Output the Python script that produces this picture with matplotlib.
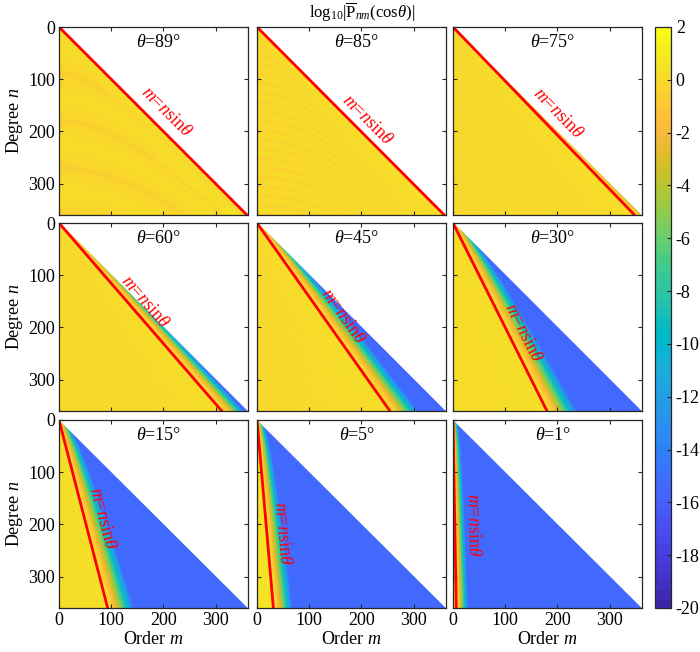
import numpy as np
import matplotlib
matplotlib.use("Agg")
import matplotlib.pyplot as plt
from matplotlib.colors import ListedColormap

# ---- data description ----
thetas = [89, 85, 75, 60, 45, 30, 15, 5, 1]      # colatitude of each panel, degrees
nmax = 360                                       # maximum degree / order
cmin, cmax = -20, 2                              # colour limits of log10|P|
noise_floor = -15.3                              # round-off floor seen in the blue region
cbar_ticks = list(range(-20, 3, 2))
axis_ticks = [0, 100, 200, 300]

# where the "m=nsin(theta)" label sits: degree n of its centre, and m offset from the line
label_n = [163, 178, 165, 151, 179, 209, 188, 216, 200]
label_dm = [43, 34, 42, 34, 37, 30, 35, 29, 34]

# MATLAB parula (64 entries)
parula_data = [
    [0.2422, 0.1504, 0.6603], [0.2504, 0.1650, 0.7076], [0.2578, 0.1818, 0.7511],
    [0.2647, 0.1978, 0.7952], [0.2706, 0.2147, 0.8364], [0.2751, 0.2342, 0.8710],
    [0.2783, 0.2559, 0.8991], [0.2803, 0.2782, 0.9221], [0.2813, 0.3006, 0.9414],
    [0.2810, 0.3228, 0.9579], [0.2795, 0.3447, 0.9717], [0.2760, 0.3667, 0.9829],
    [0.2699, 0.3892, 0.9906], [0.2602, 0.4123, 0.9952], [0.2440, 0.4358, 0.9988],
    [0.2206, 0.4603, 0.9973], [0.1963, 0.4847, 0.9892], [0.1834, 0.5074, 0.9798],
    [0.1786, 0.5289, 0.9682], [0.1764, 0.5499, 0.9520], [0.1687, 0.5703, 0.9359],
    [0.1540, 0.5902, 0.9218], [0.1460, 0.6091, 0.9079], [0.1380, 0.6276, 0.8973],
    [0.1248, 0.6459, 0.8883], [0.1113, 0.6635, 0.8763], [0.0952, 0.6798, 0.8598],
    [0.0689, 0.6948, 0.8394], [0.0297, 0.7082, 0.8163], [0.0036, 0.7203, 0.7917],
    [0.0067, 0.7312, 0.7660], [0.0433, 0.7411, 0.7394], [0.0964, 0.7500, 0.7120],
    [0.1408, 0.7584, 0.6842], [0.1717, 0.7670, 0.6554], [0.1938, 0.7758, 0.6251],
    [0.2161, 0.7843, 0.5923], [0.2470, 0.7918, 0.5567], [0.2906, 0.7973, 0.5188],
    [0.3406, 0.8008, 0.4789], [0.3909, 0.8029, 0.4354], [0.4456, 0.8024, 0.3909],
    [0.5044, 0.7993, 0.3480], [0.5616, 0.7942, 0.3045], [0.6174, 0.7876, 0.2612],
    [0.6720, 0.7793, 0.2227], [0.7242, 0.7698, 0.1910], [0.7738, 0.7598, 0.1646],
    [0.8203, 0.7498, 0.1535], [0.8634, 0.7406, 0.1596], [0.9035, 0.7330, 0.1774],
    [0.9393, 0.7288, 0.2100], [0.9728, 0.7298, 0.2394], [0.9956, 0.7434, 0.2371],
    [0.9970, 0.7659, 0.2199], [0.9952, 0.7893, 0.2028], [0.9892, 0.8136, 0.1885],
    [0.9786, 0.8386, 0.1766], [0.9676, 0.8639, 0.1643], [0.9610, 0.8890, 0.1537],
    [0.9597, 0.9135, 0.1423], [0.9628, 0.9373, 0.1265], [0.9691, 0.9606, 0.1064],
    [0.9769, 0.9839, 0.0805]]
parula = ListedColormap(parula_data, name="parula")
parula.set_bad((1, 1, 1, 0))


def log10_legendre(theta_deg, N):
    """log10 |fully normalised P_nm(cos theta)| for 0<=m<=n<=N, NaN above the diagonal."""
    th = np.radians(theta_deg)
    t, u = np.cos(th), np.sin(th)
    out = np.full((N + 1, N + 1), np.nan)
    # sectorials in log form
    logpmm = np.zeros(N + 1)
    if N >= 1:
        logpmm[1] = np.log10(np.sqrt(3.0) * u)
    for k in range(2, N + 1):
        logpmm[k] = logpmm[k - 1] + np.log10(u * np.sqrt((2 * k + 1) / (2.0 * k)))
    p1 = np.zeros(N + 1)
    p2 = np.zeros(N + 1)
    sc = np.zeros(N + 1)
    for n in range(N + 1):
        p = np.zeros(N + 1)
        if n >= 1:
            mm = np.arange(n).astype(float)
            a = np.sqrt((2 * n - 1) * (2 * n + 1) / ((n - mm) * (n + mm)))
            if n >= 2:
                b = np.sqrt(np.clip((2 * n + 1) * (n + mm - 1) * (n - mm - 1)
                                    / ((n - mm) * (n + mm) * (2 * n - 3)), 0, None))
            else:
                b = np.zeros(n)
            p[:n] = a * t * p1[:n] - b * p2[:n]
        p[n] = 1.0
        sc[n] = logpmm[n]
        with np.errstate(divide="ignore"):
            out[n, :n + 1] = np.log10(np.abs(p[:n + 1])) + sc[:n + 1]
        big = np.abs(p) > 1e100
        p[big] /= 1e100
        p1[big] /= 1e100
        sc[big] += 100
        p2 = p1.copy()
        p1 = p
    return out


plt.rcParams["font.family"] = ["Liberation Serif", "DejaVu Serif"]
plt.rcParams["mathtext.fontset"] = "custom"
plt.rcParams["mathtext.rm"] = "Liberation Serif"
plt.rcParams["mathtext.it"] = "Liberation Serif:italic"
plt.rcParams["axes.unicode_minus"] = False
plt.rcParams["font.size"] = 11

fig = plt.figure(figsize=(7.0, 6.52), dpi=100)

W, H = 700.0, 652.0
col_left = [59, 257, 453]
row_top = [27, 223, 420]
pw, ph = 189, 188
edge = "#262626"

im = None
for i, th in enumerate(thetas):
    r, c = divmod(i, 3)
    ax = fig.add_axes([col_left[c] / W, 1 - (row_top[r] + ph) / H, pw / W, ph / H])
    data = log10_legendre(th, nmax)
    data = np.maximum(data, noise_floor)
    im = ax.imshow(data, cmap=parula, vmin=cmin, vmax=cmax, origin="upper",
                   extent=[-0.5, nmax + 0.5, nmax + 0.5, -0.5], aspect="auto",
                   interpolation="antialiased", interpolation_stage="rgba")
    s = np.sin(np.radians(th))
    ax.plot([0, nmax * s], [0, nmax], color="red", lw=2.0)
    ax.set_xlim(0, nmax + 2)
    ax.set_ylim(nmax, 0)
    ax.set_xticks(axis_ticks)
    ax.set_yticks(axis_ticks)
    ax.tick_params(direction="in", top=True, right=True, length=3, width=0.8,
                   color=edge, labelsize=13, pad=3)
    for sp in ax.spines.values():
        sp.set_color(edge)
        sp.set_linewidth(0.9)
    if c != 0:
        ax.set_yticklabels([])
    else:
        ax.set_ylabel("Degree $n$", fontsize=13, labelpad=2)
    if r != 2:
        ax.set_xticklabels([])
    else:
        ax.set_xlabel("Order $m$", fontsize=13, labelpad=1)
    ax.text(0.53, 0.915, r"$\theta$=%d°" % th, transform=ax.transAxes,
            ha="center", va="center", fontsize=13)
    ang = -np.degrees(np.arctan2(1.0, s))
    ln = label_n[i]
    ax.text(ln * s + label_dm[i], ln, r"$m$=$n$sin$\theta$", color="red",
            rotation=ang, rotation_mode="anchor", ha="center", va="center",
            fontsize=13)

cax = fig.add_axes([655 / W, 1 - 608 / H, 16 / W, 581 / H])
cb = fig.colorbar(im, cax=cax, ticks=cbar_ticks)
cb.outline.set_edgecolor(edge)
cb.outline.set_linewidth(0.9)
cax.tick_params(direction="in", length=3, width=0.8, color=edge, labelsize=13)
cax.set_yticklabels([str(v) for v in cbar_ticks])

fig.text(362 / W, 1 - 12 / H, r"log$_{10}$|$\overline{\mathrm{P}}_{nm}$(cos$\theta$)|",
         ha="center", va="center", fontsize=12)

fig.savefig("out.png", dpi=100)
